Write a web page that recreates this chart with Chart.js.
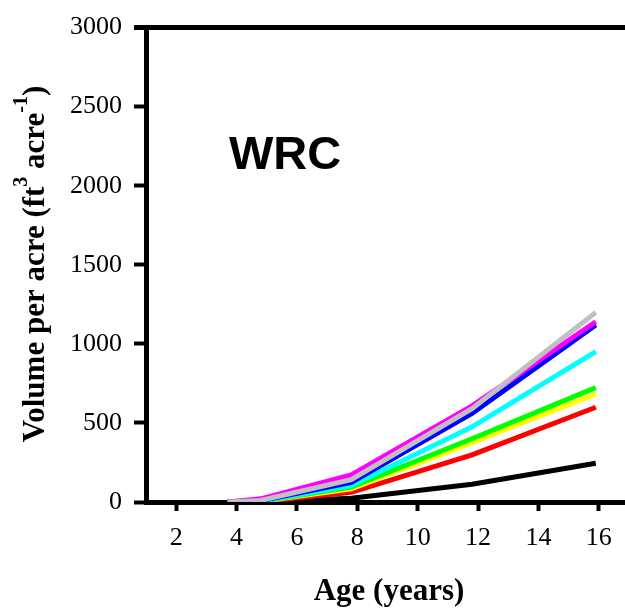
<!DOCTYPE html>
<html>
<head>
<meta charset="utf-8">
<script src="https://cdn.jsdelivr.net/npm/chart.js@4/dist/chart.umd.min.js"></script>
<style>
  html, body { margin: 0; padding: 0; background: #fff; overflow: hidden; }
  #wrap { width: 660px; height: 613px; }
</style>
</head>
<body>
<div id="wrap"><canvas id="volume-chart" width="660" height="613"></canvas></div>
<script>
// Stand age (years) at each measurement
const ages = [3.7, 4.8, 7.8, 11.8, 15.9];

// Volume per acre for each treatment line
const grayVol    = [0, 10, 141, 590, 1199];
const magentaVol = [0, 20, 172, 608, 1140];
const blueVol    = [0, 8, 124, 560, 1120];
const cyanVol    = [0, 5, 104, 475, 951];
const greenVol   = [0, 4, 94, 400, 723];
const yellowVol  = [0, 3, 84, 375, 683];
const redVol     = [0, 2, 61, 298, 599];
const blackVol   = [0, 0, 24, 112, 245];

const xTicks = [2, 4, 6, 8, 10, 12, 14, 16];
const yTicks = [0, 500, 1000, 1500, 2000, 2500, 3000];

const serif = "'Liberation Serif', 'Times New Roman', serif";
const sans = "'Liberation Sans', Arial, sans-serif";

function series(values, color) {
  return {
    data: ages.map((a, i) => ({ x: a, y: values[i] })),
    borderColor: color,
    backgroundColor: color,
    borderWidth: 5,
    pointRadius: 0,
    tension: 0,
    fill: false
  };
}

// first dataset is painted last, so gray sits on top
const datasets = [
  series(grayVol, '#c0c0c0'),
  series(magentaVol, '#ff00ff'),
  series(blueVol, '#0000ff'),
  series(cyanVol, '#00ffff'),
  series(greenVol, '#00ff00'),
  series(yellowVol, '#ffff00'),
  series(redVol, '#ff0000'),
  series(blackVol, '#000000')
];

// frame top line, panel label and axis titles
const decorations = {
  id: 'decorations',
  afterDraw(chart) {
    const ctx = chart.ctx;
    const area = chart.chartArea;
    ctx.save();

    ctx.strokeStyle = '#000';
    ctx.lineWidth = 5;
    ctx.beginPath();
    ctx.moveTo(area.left - 12, area.top);
    ctx.lineTo(chart.width, area.top);
    ctx.stroke();

    ctx.fillStyle = '#000';
    ctx.font = 'bold 47px ' + sans;
    ctx.textAlign = 'left';
    ctx.textBaseline = 'alphabetic';
    ctx.fillText('WRC', 229, 169);

    ctx.font = 'bold 31px ' + serif;
    ctx.textAlign = 'center';
    ctx.fillText('Age (years)', 389, 600);

    // rotated y title with superscripts
    const parts = [
      { t: 'Volume per acre (ft', sup: false },
      { t: '3', sup: true },
      { t: ' acre', sup: false },
      { t: '-1', sup: true },
      { t: ')', sup: false }
    ];
    const mainFont = 'bold 31px ' + serif;
    const supFont = 'bold 20px ' + serif;
    let total = 0;
    parts.forEach(p => {
      ctx.font = p.sup ? supFont : mainFont;
      p.w = ctx.measureText(p.t).width;
      total += p.w;
    });
    ctx.translate(44, 264);
    ctx.rotate(-Math.PI / 2);
    ctx.textAlign = 'left';
    let x = -total / 2;
    parts.forEach(p => {
      ctx.font = p.sup ? supFont : mainFont;
      ctx.fillText(p.t, x, p.sup ? -17 : 0);
      x += p.w;
    });
    ctx.restore();
  }
};

new Chart(document.getElementById('volume-chart'), {
  type: 'line',
  data: { datasets: datasets },
  plugins: [decorations],
  options: {
    responsive: false,
    animation: false,
    devicePixelRatio: 1,
    layout: { padding: { top: 18, right: 31, left: 0, bottom: 0 } },
    plugins: { legend: { display: false }, tooltip: { enabled: false } },
    scales: {
      x: {
        type: 'linear',
        min: 1,
        max: 17,
        afterBuildTicks: axis => { axis.ticks = xTicks.map(v => ({ value: v })); },
        afterFit: axis => { axis.height = 111; },
        grid: { drawOnChartArea: false, tickLength: 9, tickWidth: 4, tickColor: '#000', color: '#000' },
        border: { display: true, width: 5, color: '#000' },
        ticks: { color: '#000', padding: 12, maxRotation: 0, callback: v => String(v), font: { family: serif, size: 26 } }
      },
      y: {
        min: 0,
        max: 3000,
        afterBuildTicks: axis => { axis.ticks = yTicks.map(v => ({ value: v })); },
        afterFit: axis => { axis.width = 146; },
        grid: { drawOnChartArea: false, tickLength: 12, tickWidth: 4, tickColor: '#000', color: '#000' },
        border: { display: true, width: 5, color: '#000' },
        ticks: { color: '#000', padding: 12, callback: v => String(v), font: { family: serif, size: 26 } }
      }
    }
  }
});
</script>
</body>
</html>
